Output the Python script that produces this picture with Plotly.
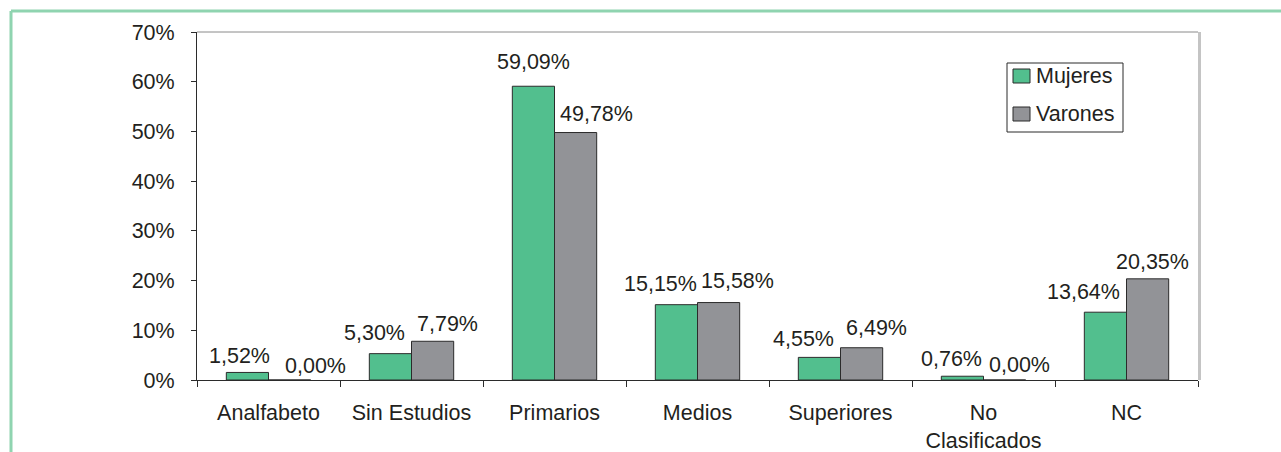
import plotly.graph_objects as go

# Nivel de estudios por sexo (porcentaje)
categorias = ["Analfabeto", "Sin Estudios", "Primarios", "Medios",
              "Superiores", "No Clasificados", "NC"]
etiquetas_eje = ["Analfabeto", "Sin Estudios", "Primarios", "Medios",
                 "Superiores", "No<br>Clasificados", "NC"]
mujeres = [1.52, 5.30, 59.09, 15.15, 4.55, 0.76, 13.64]
varones = [0.00, 7.79, 49.78, 15.58, 6.49, 0.00, 20.35]
ticks_y = [0, 10, 20, 30, 40, 50, 60, 70]
series = ["Mujeres", "Varones"]

VERDE = "#52bf8e"
GRIS = "#929397"
CONTORNO = "#2b2b2b"
TEXTO = "#231f20"
FUENTE = "Liberation Sans, Arial, sans-serif"
TAM = 21.5

# Geometry of the plotting area (pixels)
W, H = 1281, 452
L, R, T, B = 197, 83, 32, 72
ancho_px = W - L - R
alto_px = H - T - B
bargap = 0.41
paso = ancho_px / len(categorias)
medio_barra = (1 - bargap) * paso / 4  # centre of each bar from category centre

# Nudges of the value labels relative to the centre/top of their bar
desp_x_muj = [-8, -16, 0, -15.5, -15.5, -11, -22]
desp_x_var = [26, 14.5, 20.5, 19, 14.5, 15, 5]
desp_y_muj = [10, 15, 18, 15, 12, 11, 14]
desp_y_var = [8, 11, 12.5, 15.5, 14, 9, 11]


def fmt(v):
    return f"{v:.2f}".replace(".", ",") + "%"


fig = go.Figure()
fig.add_trace(go.Bar(name=series[0], x=categorias, y=mujeres,
                     marker=dict(color=VERDE, line=dict(color=CONTORNO, width=1))))
fig.add_trace(go.Bar(name=series[1], x=categorias, y=varones,
                     marker=dict(color=GRIS, line=dict(color=CONTORNO, width=1))))

anot = []
for serie, signo, dx, dy in ((mujeres, -1, desp_x_muj, desp_y_muj),
                             (varones, 1, desp_x_var, desp_y_var)):
    for c, v, ox, oy in zip(categorias, serie, dx, dy):
        anot.append(dict(x=c, y=v, xref="x", yref="y", text=fmt(v),
                         showarrow=False, yanchor="bottom", xanchor="center",
                         xshift=signo * medio_barra + ox, yshift=oy - 8,
                         font=dict(family=FUENTE, size=TAM, color=TEXTO)))


def px_x(p):
    return (p - L) / ancho_px


def px_y(p):
    return (H - B - p) / alto_px


formas = [
    # outer green frame
    dict(type="line", xref="paper", yref="paper", x0=px_x(11), x1=px_x(W + 5),
         y0=px_y(11), y1=px_y(11), line=dict(color="#8fd4b0", width=3)),
    dict(type="line", xref="paper", yref="paper", x0=px_x(11), x1=px_x(11),
         y0=px_y(11), y1=px_y(H + 5), line=dict(color="#8fd4b0", width=3)),
    # plot-area border: top and right
    dict(type="line", xref="paper", yref="paper", x0=0, x1=1, y0=1, y1=1,
         line=dict(color="#8a8a8a", width=1)),
    dict(type="line", xref="paper", yref="paper", x0=1 + 1.5 / ancho_px,
         x1=1 + 1.5 / ancho_px, y0=0, y1=1, line=dict(color="#c4c4c4", width=3)),
    # legend box
    dict(type="rect", xref="paper", yref="paper", x0=px_x(1007), x1=px_x(1123),
         y0=px_y(132), y1=px_y(63), line=dict(color=CONTORNO, width=1),
         fillcolor="white", layer="above"),
]

# legend keys and texts
for nombre, color, yc in ((series[0], VERDE, 76), (series[1], GRIS, 114)):
    formas.append(dict(type="rect", xref="paper", yref="paper",
                       x0=px_x(1013), x1=px_x(1030), y0=px_y(yc + 7), y1=px_y(yc - 7),
                       fillcolor=color, line=dict(color=CONTORNO, width=1),
                       layer="above"))
    anot.append(dict(x=px_x(1034), y=px_y(yc), xref="paper", yref="paper",
                     text=nombre, showarrow=False, xanchor="left", yanchor="middle",
                     font=dict(family=FUENTE, size=TAM, color=TEXTO)))

fig.update_layout(
    width=W, height=H,
    margin=dict(l=L, r=R, t=T, b=B, pad=0, autoexpand=False),
    paper_bgcolor="white", plot_bgcolor="white",
    barmode="group", bargap=bargap, bargroupgap=0,
    font=dict(family=FUENTE, size=TAM, color=TEXTO),
    showlegend=False,
    annotations=anot,
    shapes=formas,
)
fig.update_xaxes(
    type="category", tickmode="array", tickvals=categorias, ticktext=etiquetas_eje,
    tickson="boundaries", ticks="outside", ticklen=6, tickcolor=CONTORNO,
    showline=True, linecolor=CONTORNO, linewidth=1, showgrid=False,
    ticklabelstandoff=13, automargin=False,
)
fig.update_yaxes(
    range=[0, 70], tickmode="array", tickvals=ticks_y,
    ticktext=[f"{t}%" for t in ticks_y],
    ticks="outside", ticklen=5, tickcolor=CONTORNO,
    showline=True, linecolor=CONTORNO, linewidth=1, showgrid=False,
    zeroline=False, ticklabelstandoff=12, automargin=False,
)

fig.write_html("out.html")
